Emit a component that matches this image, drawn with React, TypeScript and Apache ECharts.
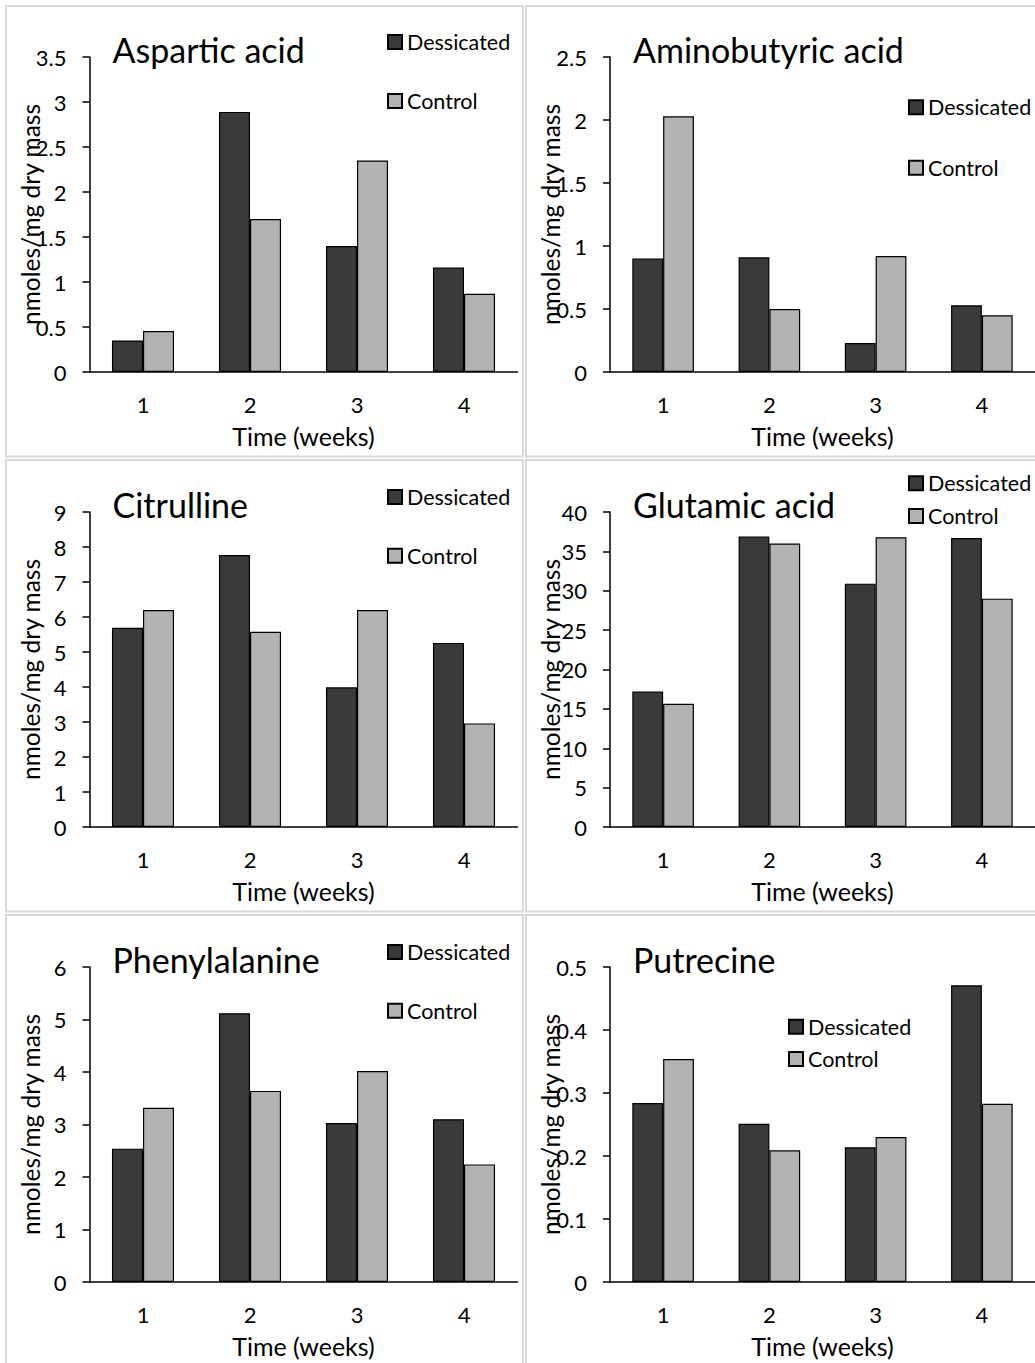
import React, { useEffect, useRef } from "react";
import * as echarts from "echarts";

// ---------- data ----------
const weeks = ["1", "2", "3", "4"];
const seriesNames = ["Dessicated", "Control"];
const panelTitles = ["Aspartic acid", "Aminobutyric acid", "Citrulline", "Glutamic acid", "Phenylalanine", "Putrecine"];

const asparticDessicated = [0.35, 2.89, 1.4, 1.16];
const asparticControl = [0.455, 1.7, 2.35, 0.87];
const aminobutyricDessicated = [0.9, 0.91, 0.23, 0.53];
const aminobutyricControl = [2.03, 0.5, 0.92, 0.45];
const citrullineDessicated = [5.69, 7.77, 3.99, 5.26];
const citrullineControl = [6.2, 5.58, 6.2, 2.96];
const glutamicDessicated = [17.2, 36.9, 30.9, 36.7];
const glutamicControl = [15.65, 36.0, 36.8, 29.0];
const phenylalanineDessicated = [2.54, 5.12, 3.03, 3.1];
const phenylalanineControl = [3.32, 3.64, 4.02, 2.24];
const putrecineDessicated = [0.284, 0.251, 0.214, 0.471];
const putrecineControl = [0.354, 0.209, 0.23, 0.283];

const yMax = [3.5, 2.5, 9, 40, 6, 0.5];
const yInterval = [0.5, 0.5, 1, 5, 1, 0.1];

const dessicatedValues = [asparticDessicated, aminobutyricDessicated, citrullineDessicated, glutamicDessicated, phenylalanineDessicated, putrecineDessicated];
const controlValues = [asparticControl, aminobutyricControl, citrullineControl, glutamicControl, phenylalanineControl, putrecineControl];

const xAxisTitle = "Time (weeks)";
const yAxisTitle = "nmoles/mg dry mass";

// ---------- layout ----------
const FONT = "Lato";
const gridLeft = [89.5, 610, 89.5, 610, 89.5, 610];
const gridTop = [57, 57, 512, 512, 967, 967];
const gridWidth = [428, 430, 428, 430, 428, 430];
const gridHeight = 315;
const titleLeft = [112.5, 633, 112.5, 633, 112.5, 633];
const titleTop = [32.8, 32.8, 487.2, 487.2, 942.2, 942.2];
const legendLeft = [387, 908, 387, 908, 387, 788];
const legendTop = [31, 96.3, 486, 472.3, 941, 1015.7];
const legendGap = [37, 38.5, 36.7, 10.7, 36.7, 10.3];
const panelRects = [
  { x: 6, y: 6, w: 517, h: 450.5 },
  { x: 526, y: 6, w: 520, h: 450.5 },
  { x: 6, y: 460, w: 517, h: 451.5 },
  { x: 526, y: 460, w: 520, h: 451.5 },
  { x: 6, y: 915, w: 517, h: 460 },
  { x: 526, y: 915, w: 520, h: 460 },
];
const DARK = "#3a3a3a";
const LIGHT = "#b3b3b3";

export default function App() {
  const ref = useRef<HTMLDivElement>(null);
  useEffect(() => {
    if (!ref.current) return;
    const chart = echarts.init(ref.current, undefined, { renderer: "svg" });
    const idx = [0, 1, 2, 3, 4, 5];
    const fmt = (v: number) => String(Math.round(v * 1000) / 1000);
    const option: any = {
      animation: false,
      backgroundColor: "#fff",
      textStyle: { fontFamily: FONT, color: "#000" },
      graphic: panelRects.map((r) => ({
        type: "rect",
        shape: { x: r.x, y: r.y, width: r.w, height: r.h },
        style: { fill: "none", stroke: "#d9d9d9", lineWidth: 2 },
        silent: true,
        z: -1,
      })),
      title: idx.map((i) => ({
        text: panelTitles[i],
        left: titleLeft[i],
        top: titleTop[i],
        padding: 0,
        textStyle: { fontFamily: FONT, fontSize: 34, fontWeight: "normal", color: "#000" },
      })),
      legend: idx.map((i) => ({
        data: seriesNames,
        orient: "vertical",
        left: legendLeft[i],
        top: legendTop[i],
        padding: 0,
        itemGap: legendGap[i],
        itemWidth: 14,
        itemHeight: 14,
        icon: "rect",
        selectedMode: false,
        textStyle: { fontFamily: FONT, fontSize: 21.5, color: "#000", lineHeight: 22 },
      })),
      grid: idx.map((i) => ({
        left: gridLeft[i],
        top: gridTop[i],
        width: gridWidth[i],
        height: gridHeight,
        containLabel: false,
      })),
      xAxis: idx.map((i) => ({
        type: "category",
        gridIndex: i,
        data: weeks,
        name: xAxisTitle,
        nameLocation: "middle",
        nameGap: 51.5,
        nameMoveOverlap: false,
        nameTextStyle: { fontFamily: FONT, fontSize: 25, color: "#000" },
        axisLine: { show: true, lineStyle: { color: "#000", width: 1.5 } },
        axisTick: { show: false },
        axisLabel: { margin: 21, fontFamily: FONT, fontSize: 22, color: "#000" },
        splitLine: { show: false },
      })),
      yAxis: idx.map((i) => ({
        type: "value",
        gridIndex: i,
        min: 0,
        max: yMax[i],
        interval: yInterval[i],
        name: yAxisTitle,
        nameLocation: "middle",
        nameGap: 47,
        nameMoveOverlap: false,
        nameTextStyle: { fontFamily: FONT, fontSize: 24.5, color: "#000" },
        axisLine: { show: true, lineStyle: { color: "#000", width: 1.5 } },
        axisTick: { show: true, length: 7, lineStyle: { color: "#000", width: 1.5 } },
        axisLabel: { margin: 23, fontFamily: FONT, fontSize: 22, color: "#000", formatter: fmt },
        splitLine: { show: false },
      })),
      series: idx.flatMap((i) => [
        {
          type: "bar",
          name: seriesNames[0],
          xAxisIndex: i,
          yAxisIndex: i,
          data: dessicatedValues[i],
          barGap: "0%",
          barCategoryGap: "42%",
          itemStyle: { color: DARK, borderColor: "#000", borderWidth: 1.2 },
        },
        {
          type: "bar",
          name: seriesNames[1],
          xAxisIndex: i,
          yAxisIndex: i,
          data: controlValues[i],
          barGap: "0%",
          barCategoryGap: "42%",
          itemStyle: { color: LIGHT, borderColor: "#000", borderWidth: 1.2 },
        },
      ]),
    };
    chart.setOption(option);
    return () => chart.dispose();
  }, []);
  return (
    <div
      ref={ref}
      style={{ position: "absolute", left: 0, top: 0, width: 1035, height: 1363, background: "#fff" }}
    />
  );
}
